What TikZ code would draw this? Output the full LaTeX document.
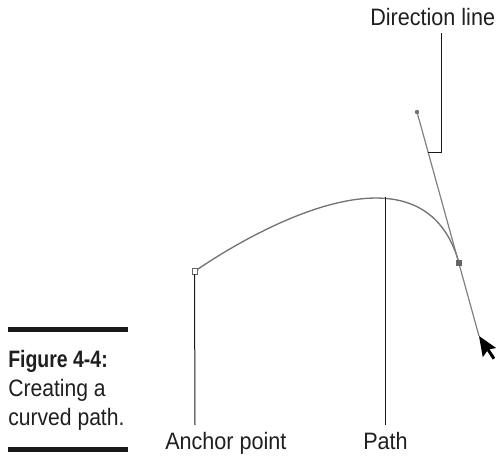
\documentclass[tikz,border=0pt]{standalone}
\usepackage{fontspec}
\setmainfont{Liberation Sans}
\newfontfamily\lblfont[FakeStretch=0.91]{Liberation Sans}
\newfontfamily\capfont[FakeStretch=0.89]{Liberation Sans}
\newfontfamily\capboldfont[FakeStretch=0.82]{Liberation Sans}
\begin{document}
\begin{tikzpicture}[x=0.75pt,y=-0.75pt,
  lbl/.style={inner sep=0pt,anchor=base west,font=\lblfont\fontsize{17.8}{21}\selectfont,text=black!88},
  capline/.style={inner sep=0pt,anchor=base west,font=\capfont\fontsize{17.8}{21}\selectfont,text=black!88},
  capbold/.style={inner sep=0pt,anchor=base west,font=\capboldfont\bfseries\fontsize{17.8}{21}\selectfont,text=black!88},
  callout/.style={draw=black!90,line width=0.75pt},
  pathline/.style={draw=black!55,line width=1pt},
  handleline/.style={draw=black!50,line width=0.9pt},
  bar/.style={draw=black!90,line width=3.75pt},
  openanchor/.style={draw=black!60,fill=white,line width=0.7pt,minimum size=3.8pt,inner sep=0pt},
  fullanchor/.style={fill=black!60,minimum size=3.8pt,inner sep=0pt}]
\useasboundingbox (0,0) rectangle (497,456);
% coordinates
\coordinate (A) at (194.5,271.5);
\coordinate (B) at (459,263);
\coordinate (H1) at (417,112);
\coordinate (H2) at (479,336);
% path and direction line
\draw[pathline] (A) .. controls (A) and (H1) .. (B);
\draw[handleline] (H1) -- (H2);
\fill[black!55] (H1) circle (2.2);
\node[openanchor] (anc) at (A) {};
\node[fullanchor] (anc2) at (B) {};
% cursor
\fill[black] (479,336) -- (482.76,357.27) -- (487.14,351.02) -- (492.77,359.63)
  -- (495.2,357.83) -- (489.56,349.22) -- (496.21,348.05) -- cycle;
% labels
\node[lbl] (dirlbl) at (370,26) {Direction line};
\node[lbl] (anclbl) at (165,450) {Anchor point};
\node[lbl] (pathlbl) at (363,450) {Path};
% callouts
\coordinate (aend) at (195,425);
\coordinate (ptop) at (385,197.5);
\coordinate (pend) at (385,425);
\coordinate (dtop) at (441,33);
\coordinate (dcorner) at (441,153);
\coordinate (dend) at (428.3,153);
\draw[callout] (anc.south) -- (aend);
\draw[callout] (ptop) -- (pend);
\draw[callout] (dtop) -- (dcorner) -- (dend);
% caption
\draw[bar] (8,329.5) -- (128,329.5);
\draw[bar] (8,449.5) -- (128,449.5);
\node[capbold] (cap1) at (8,368) {Figure 4-4:};
\node[capline] (cap2) at (8,397) {Creating a};
\node[capline] (cap3) at (8,426) {curved path.};
\end{tikzpicture}
\end{document}
